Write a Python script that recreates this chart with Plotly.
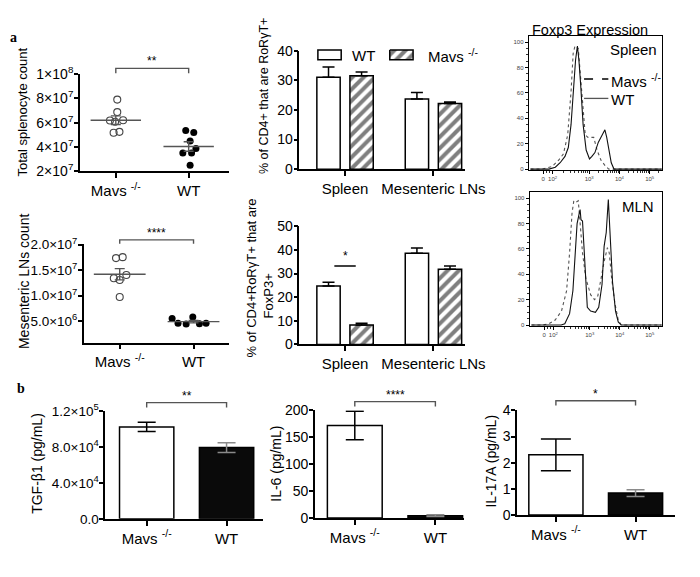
import plotly.graph_objects as go

W, H = 700, 577
SANS = "Liberation Sans, Arial, Helvetica, sans-serif"
SERIF = "Liberation Serif, Times New Roman, serif"

# ---------------- data ----------------
genotypes = ["Mavs <sup>-/-</sup>", "WT"]
tissues = ["Spleen", "Mesenteric LNs"]

# a) total splenocyte count per mouse
spleen_mavs = [7.9e7, 6.87e7, 6.17e7, 6.07e7, 6.2e7, 5.24e7, 5.16e7]
spleen_wt = [5.34e7, 5.18e7, 4.49e7, 3.87e7, 3.5e7, 3.5e7, 2.48e7]
spleen_mean = [6.2e7, 4.03e7]
spleen_sem = [0.36e7, 0.39e7]
spleen_jit_mavs = [0.02, 0.02, -0.08, -0.01, 0.10, 0.05, -0.03]
spleen_jit_wt = [-0.04, 0.07, 0.02, 0.10, -0.08, 0.04, 0.02]

# a) mesenteric LN count per mouse
mln_mavs = [1.737e7, 1.756e7, 1.404e7, 1.34e7, 1.308e7, 0.974e7]
mln_wt = [5.51e6, 5.77e6, 4.55e6, 4.42e6, 4.49e6, 4.55e6]
mln_mean = [1.42e7, 4.88e6]
mln_sem = [0.11e7, 0.25e6]
mln_jit_mavs = [-0.05, 0.04, 0.09, -0.08, 0.0, 0.0]
mln_jit_wt = [-0.29, -0.01, -0.21, -0.10, 0.08, 0.17]

# a) % RoRgT+ of CD4+
rorgt_wt = [31.1, 23.7]
rorgt_wt_err = [3.5, 2.2]
rorgt_mavs = [31.6, 22.2]
rorgt_mavs_err = [1.3, 0.5]

# a) % FoxP3+ of CD4+RoRgT+
foxp3_wt = [24.7, 38.6]
foxp3_wt_err = [1.6, 2.2]
foxp3_mavs = [8.2, 31.8]
foxp3_mavs_err = [0.8, 1.4]

# a) Foxp3 flow histograms (x = display channel, y = % of max)
flow_ticks = [1.48, 1.79, 3, 4, 5]
flow_ticktext = ["0", "10<sup>2</sup>", "10<sup>3</sup>", "10<sup>4</sup>", "10<sup>5</sup>"]
spl_wt_x = [1.06, 1.67, 1.88, 2.04, 2.20, 2.31, 2.40, 2.47, 2.55, 2.61, 2.66, 2.72, 2.80,
            2.90, 3.01, 3.09, 3.19, 3.30, 3.44, 3.52, 3.58, 3.66, 3.73, 3.82, 5.40]
spl_wt_y = [0, 0, 1.5, 5, 10, 17, 35, 61, 86, 97, 86, 66, 35, 15, 8, 10, 13, 21, 27, 31,
            25, 13, 5, 0, 0]
spl_ko_x = [1.06, 1.45, 1.77, 1.99, 2.15, 2.29, 2.40, 2.47, 2.53, 2.58, 2.64, 2.72, 2.80,
            2.87, 2.96, 3.06, 3.15, 3.26, 3.39, 3.55, 3.65, 5.40]
spl_ko_y = [0, 0, 2, 7, 12, 27, 61, 91, 97, 97, 95, 73, 45, 27, 25, 25, 25, 15, 7, 2, 0, 0]
mln_wt_x = [1.06, 2.05, 2.17, 2.33, 2.44, 2.52, 2.58, 2.66, 2.68, 2.71, 2.76, 2.82, 2.87,
            2.92, 3.03, 3.19, 3.30, 3.41, 3.48, 3.55, 3.62, 3.68, 3.76, 3.86, 3.95, 4.05, 5.40]
mln_wt_y = [0, 0, 1, 9, 27, 57, 80, 89, 91, 83, 82, 57, 32, 14, 11, 10, 14, 32, 62, 73,
            99, 70, 34, 11, 2.5, 0, 0]
mln_ko_x = [1.06, 1.42, 1.64, 1.85, 2.06, 2.23, 2.33, 2.41, 2.47, 2.55, 2.62, 2.69, 2.76,
            2.87, 3.03, 3.16, 3.27, 3.38, 3.48, 3.59, 3.65, 3.73, 3.84, 3.95, 4.05, 5.40]
mln_ko_y = [0, 0, 1, 4, 11, 27, 57, 88, 98, 97, 98, 78, 57, 37, 24, 20, 23, 37, 50, 61,
            57, 37, 17, 4, 0, 0]

# b) cytokines
tgf = [1.026e5, 7.95e4]
tgf_err = [5.2e3, 5.5e3]
il6 = [171.7, 4.2]
il6_err = [26.5, 1.5]
il17 = [2.30, 0.84]
il17_err = [0.61, 0.13]

# ---------------- layout geometry (pixels) ----------------
AX = {
    'A1': dict(xd=(74, 227), yd=(58, 158), xr=(-0.493, 1.547), yr=(2e7, 1e8)),
    'A2': dict(xd=(78, 227), yd=(233, 335), xr=(-0.487, 1.474), yr=(0.77e6, 2.02e7)),
    'A3': dict(xd=(300, 470), yd=(34, 156), xr=(-0.516, 1.352), yr=(0, 40)),
    'A4': dict(xd=(300, 470), yd=(215, 337), xr=(-0.516, 1.352), yr=(0, 50)),
    'A5': dict(xd=(536, 673), yd=(19, 157), xr=(1.0, 5.4), yr=(-0.8, 104.6)),
    'A6': dict(xd=(537, 673), yd=(180, 318), xr=(1.0, 5.4), yr=(-0.8, 104.6)),
    'B1': dict(xd=(100, 262), yd=(406, 517), xr=(-0.52, 1.45), yr=(0, 1.2e5)),
    'B2': dict(xd=(316, 469), yd=(405, 516), xr=(-0.494, 1.35), yr=(0, 200)),
    'B3': dict(xd=(524, 687), yd=(405, 513), xr=(-0.488, 1.5), yr=(0, 4)),
}
ORDER = ['A1', 'A2', 'A3', 'A4', 'A5', 'A6', 'B1', 'B2', 'B3']
IDX = {k: i + 1 for i, k in enumerate(ORDER)}


def xref(k):
    i = IDX[k]
    return 'x' if i == 1 else f'x{i}'


def yref(k):
    i = IDX[k]
    return 'y' if i == 1 else f'y{i}'


def px_x(k, v):
    a = AX[k]
    (x0, x1), (r0, r1) = a['xd'], a['xr']
    return x0 + (v - r0) / (r1 - r0) * (x1 - x0)


def PX(x):
    return x / W


def PY(y):
    return 1 - y / H


fig = go.Figure()

BLACK = 'black'
GREY = '#444'


# ---- scatter panels ----
def dot_panel(k, mavs, wt, jm, jw, mean, sem, meanw):
    fig.add_trace(go.Scatter(
        x=[0 + j for j in jm], y=mavs, mode='markers', xaxis=xref(k), yaxis=yref(k),
        marker=dict(symbol='circle-open', size=7, color=GREY, line=dict(width=1.1)),
        showlegend=False, cliponaxis=False))
    fig.add_trace(go.Scatter(
        x=[1 + j for j in jw], y=wt, mode='markers', xaxis=xref(k), yaxis=yref(k),
        marker=dict(symbol='circle', size=7, color=BLACK),
        showlegend=False, cliponaxis=False))
    fig.add_trace(go.Scatter(
        x=[0, 1], y=mean, mode='markers', xaxis=xref(k), yaxis=yref(k),
        marker=dict(symbol='line-ew-open', size=meanw, color='#555', line=dict(width=1.4, color='#555')),
        error_y=dict(type='data', array=sem, width=5, thickness=1.4, color='#555'),
        showlegend=False, cliponaxis=False))


dot_panel('A1', spleen_mavs, spleen_wt, spleen_jit_mavs, spleen_jit_wt, spleen_mean, spleen_sem, 36)
dot_panel('A2', mln_mavs, mln_wt, mln_jit_mavs, mln_jit_wt, mln_mean, mln_sem, 37)

# ---- grouped bar panels ----
BW = 0.264
OFF_WT = -0.187 - BW / 2
OFF_KO = 0.187 - BW / 2
HATCH = dict(shape='/', fgcolor=BLACK, bgcolor='white', size=8, solidity=0.5)


def group_panel(k, wt, wte, ko, koe):
    fig.add_trace(go.Bar(
        x=[0, 1], y=wt, width=BW, offset=OFF_WT, xaxis=xref(k), yaxis=yref(k),
        marker=dict(color='white', line=dict(color=BLACK, width=1.5)),
        error_y=dict(type='data', symmetric=False, array=wte, arrayminus=[0, 0],
                     width=6, thickness=1.5, color=BLACK),
        showlegend=False))
    fig.add_trace(go.Bar(
        x=[0, 1], y=ko, width=BW, offset=OFF_KO, xaxis=xref(k), yaxis=yref(k),
        marker=dict(color='white', line=dict(color=BLACK, width=1.5), pattern=HATCH),
        error_y=dict(type='data', symmetric=False, array=koe, arrayminus=[0, 0],
                     width=6, thickness=1.5, color=BLACK),
        showlegend=False))


group_panel('A3', rorgt_wt, rorgt_wt_err, rorgt_mavs, rorgt_mavs_err)
group_panel('A4', foxp3_wt, foxp3_wt_err, foxp3_mavs, foxp3_mavs_err)

# ---- flow histograms ----
for k, wx, wy, kx, ky in [('A5', spl_wt_x, spl_wt_y, spl_ko_x, spl_ko_y),
                          ('A6', mln_wt_x, mln_wt_y, mln_ko_x, mln_ko_y)]:
    fig.add_trace(go.Scatter(x=kx, y=ky, mode='lines', xaxis=xref(k), yaxis=yref(k),
                             line=dict(color='#555', width=1.1, dash='dot'), showlegend=False))
    fig.add_trace(go.Scatter(x=wx, y=wy, mode='lines', xaxis=xref(k), yaxis=yref(k),
                             line=dict(color='#111', width=1.1), showlegend=False))

# ---- cytokine bars ----
BWB = 0.68
for k, vals, errs in [('B1', tgf, tgf_err), ('B2', il6, il6_err), ('B3', il17, il17_err)]:
    capw = 9 if k != 'B3' else 15
    fig.add_trace(go.Bar(
        x=[0], y=vals[:1], width=BWB, xaxis=xref(k), yaxis=yref(k),
        marker=dict(color='white', line=dict(color=BLACK, width=1.5)),
        error_y=dict(type='data', array=errs[:1], width=capw, thickness=1.5, color=BLACK),
        showlegend=False))
    fig.add_trace(go.Bar(
        x=[1], y=vals[1:], width=BWB, xaxis=xref(k), yaxis=yref(k),
        marker=dict(color='#0a0a0a', line=dict(color=BLACK, width=1.5)),
        error_y=dict(type='data', array=errs[1:], width=9, thickness=1.5, color='#8a8a8a'),
        showlegend=False))

# ---------------- axes ----------------
layout = dict(width=W, height=H, margin=dict(l=0, r=0, t=0, b=0),
              paper_bgcolor='white', plot_bgcolor='rgba(0,0,0,0)',
              barmode='overlay', font=dict(family=SANS, color=BLACK, size=14), showlegend=False)

base_axis = dict(showline=True, linecolor=BLACK, linewidth=1.5, ticks='outside', ticklen=5,
                 tickwidth=1.5, tickcolor=BLACK, showgrid=False, zeroline=False,
                 fixedrange=True)

ytick = {
    'A1': ([2e7, 4e7, 6e7, 8e7, 1e8],
           ["2×10<sup>7</sup>", "4×10<sup>7</sup>", "6×10<sup>7</sup>", "8×10<sup>7</sup>", "1×10<sup>8</sup>"], 14),
    'A2': ([5e6, 1e7, 1.5e7, 2e7],
           ["5.0×10<sup>6</sup>", "1.0×10<sup>7</sup>", "1.5×10<sup>7</sup>", "2.0×10<sup>7</sup>"], 13.5),
    'A3': ([0, 10, 20, 30, 40], ["0", "10", "20", "30", "40"], 14),
    'A4': ([0, 10, 20, 30, 40, 50], ["0", "10", "20", "30", "40", "50"], 14),
    'B1': ([0, 4e4, 8e4, 1.2e5],
           ["0.0", "4.0×10<sup>4</sup>", "8.0×10<sup>4</sup>", "1.2×10<sup>5</sup>"], 13.5),
    'B2': ([0, 50, 100, 150, 200], ["0", "50", "100", "150", "200"], 14),
    'B3': ([0, 1, 2, 3, 4], ["0", "1", "2", "3", "4"], 14),
}

for k in ORDER:
    i = IDX[k]
    a = AX[k]
    xa = dict(base_axis, domain=[PX(a['xd'][0]), PX(a['xd'][1])], range=list(a['xr']),
              anchor=yref(k))
    ya = dict(base_axis, domain=[PY(a['yd'][1]), PY(a['yd'][0])], range=list(a['yr']),
              anchor=xref(k))
    if k in ('A5', 'A6'):
        for ax in (xa, ya):
            ax.update(linewidth=1, tickwidth=0.8, ticklen=3, mirror=True,
                      tickfont=dict(size=6, color='#444'))
        minor_x = [1.6, 1.7] + [1.79 + 1.21 * m for m in (0.301, 0.477, 0.602, 0.699, 0.778, 0.845, 0.903, 0.954)]
        minor_x += [d + m for d in (3, 4) for m in (0.301, 0.477, 0.602, 0.699, 0.778, 0.845, 0.903, 0.954)]
        minor_x += [5.301]
        xa.update(tickvals=flow_ticks, ticktext=flow_ticktext,
                  minor=dict(tickvals=minor_x, ticklen=2, tickwidth=0.6, ticks='outside', tickcolor='#333'))
        ya.update(tickvals=[0, 20, 40, 60, 80, 100], ticktext=["0", "20", "40", "60", "80", "100"],
                  minor=dict(dtick=5, ticklen=2, tickwidth=0.6, ticks='outside', tickcolor='#333'))
    else:
        xa.update(tickvals=[0, 1],
                  ticktext=tissues if k in ('A3', 'A4') else genotypes,
                  tickfont=dict(size=15, color=BLACK, family=SANS), ticklen=5)
        tv, tt, fs = ytick[k]
        ya.update(tickvals=tv, ticktext=tt, tickfont=dict(size=fs, color=BLACK, family=SANS),
                  ticklen=4, ticklabelstandoff=-2)
    layout['xaxis' if i == 1 else f'xaxis{i}'] = xa
    layout['yaxis' if i == 1 else f'yaxis{i}'] = ya

# overlay pixel canvas (for the hatched legend patch)
layout['xaxis10'] = dict(domain=[0, 1], range=[0, W], visible=False, anchor='y10', fixedrange=True)
layout['yaxis10'] = dict(domain=[0, 1], range=[H, 0], visible=False, anchor='x10', fixedrange=True)
fig.add_trace(go.Scatter(x=[393, 417, 417, 393, 393], y=[33, 33, 43, 43, 33], mode='lines',
                         fill='toself', fillcolor='white',
                         fillpattern=dict(shape='/', fgcolor=BLACK, bgcolor='white', size=8, solidity=0.5),
                         line=dict(color=BLACK, width=1.5), xaxis='x10', yaxis='y10',
                         showlegend=False, hoverinfo='skip'))

fig.update_layout(**layout)

# ---------------- annotations & shapes ----------------
ann = []
shapes = []


def text(x, y, s, size=14, xanchor='center', yanchor='middle', angle=0, family=SANS, color=BLACK):
    ann.append(dict(x=PX(x), y=PY(y), xref='paper', yref='paper', text=s, showarrow=False,
                    xanchor=xanchor, yanchor=yanchor, textangle=angle,
                    font=dict(family=family, size=size, color=color)))


def bracket(k, y_px, drop, label, lsize=12):
    x0, x1 = PX(px_x(k, 0)), PX(px_x(k, 1))
    y0, y1 = PY(y_px), PY(y_px + drop)
    shapes.append(dict(type='path', xref='paper', yref='paper',
                       path=f'M {x0},{y1} L {x0},{y0} L {x1},{y0} L {x1},{y1}',
                       line=dict(color='#555', width=1.4)))
    text((px_x(k, 0) + px_x(k, 1)) / 2, y_px + 2, label, size=lsize, yanchor='bottom')


# panel letters
text(6, 20, "<b>a</b>", size=14, family=SERIF)
text(13, 382, "<b>b</b>", size=14, family=SERIF)

# y titles
text(15, 97, "Total splenocyte count", size=13, angle=-90)
text(16, 272, "Mesenteric LNs count", size=14, angle=-90)
text(263, 80, "% of CD4+ that are RoRγT+", size=12.5, angle=-90)
text(251, 268, "% of CD4+RoRγT+ that are", size=13, angle=-90)
text(268, 287, "FoxP3+", size=13, angle=-90)
text(29, 460, "TGF-β1 (pg/mL)", size=14, angle=-90)
text(276, 460, "IL-6 (pg/mL)", size=14, angle=-90)
text(497, 457, "IL-17A (pg/mL)", size=14, angle=-90)

# significance
bracket('A1', 52, 5, "**")
bracket('A2', 229, 4, "****")
bracket('B1', 397, 5, "**")
bracket('B2', 396, 5, "****")
bracket('B3', 395, 5, "*")

# FoxP3 spleen comparison line
shapes.append(dict(type='line', xref=xref('A4'), yref=yref('A4'), x0=-0.121, x1=0.121,
                   y0=33.2, y1=33.2, line=dict(color=BLACK, width=1.5)))
ann.append(dict(x=0, y=33.6, xref=xref('A4'), yref=yref('A4'), text="*", showarrow=False,
                yanchor='bottom', font=dict(size=12, family=SANS, color=BLACK)))

# RoRgT legend
shapes.append(dict(type='rect', xref='paper', yref='paper', x0=PX(319), x1=PX(343),
                   y0=PY(43), y1=PY(33), line=dict(color=BLACK, width=1.5), fillcolor='white'))
text(352, 39, "WT", size=15, xanchor='left')
text(430, 39, "Mavs <sup>-/-</sup>", size=15, xanchor='left')

# flow labels
text(537, 12, "Foxp3 Expression", size=14.5, xanchor='left')
text(670, 32, "Spleen", size=15, xanchor='right')
text(667, 195, "MLN", size=15, xanchor='right')
shapes.append(dict(type='line', xref='paper', yref='paper', x0=PX(593), x1=PX(618),
                   y0=PY(63), y1=PY(63), line=dict(color=BLACK, width=1.5, dash='dash')))
shapes.append(dict(type='line', xref='paper', yref='paper', x0=PX(593), x1=PX(618),
                   y0=PY(83), y1=PY(83), line=dict(color='#555', width=1.3)))
text(619, 64, "Mavs <sup>-/-</sup>", size=15, xanchor='left')
text(619, 84, "WT", size=15, xanchor='left')

fig.update_layout(annotations=ann, shapes=shapes)
fig.write_html("out.html")
